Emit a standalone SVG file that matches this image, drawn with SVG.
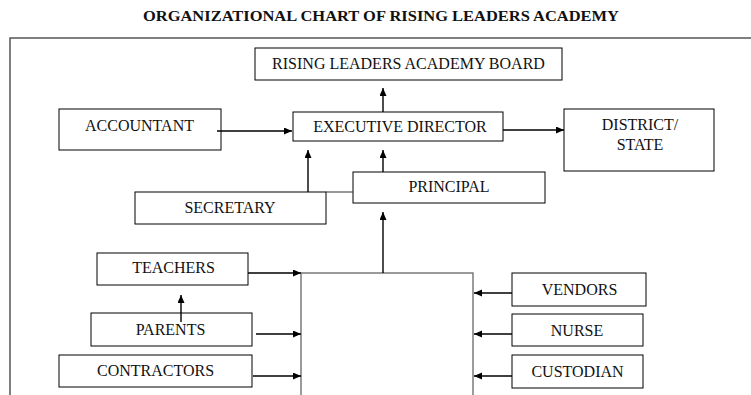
<svg xmlns="http://www.w3.org/2000/svg" width="751" height="395" viewBox="0 0 751 395">
<style>
.box{fill:#fff;stroke:#000;stroke-width:1}
.lbl{font-family:"Liberation Serif","Times New Roman",serif;font-size:16px;fill:#111;text-anchor:middle}
.con{stroke:#000;stroke-width:1.4;fill:none}
.title{font-family:"Liberation Serif","Times New Roman",serif;font-size:14px;font-weight:bold;fill:#111;text-anchor:middle}
</style>
<defs>
<marker id="ah" markerUnits="userSpaceOnUse" markerWidth="9" markerHeight="8" refX="8" refY="3.5" orient="auto">
<path d="M0,0 L8,3.5 L0,7 z" fill="#000"/>
</marker>
</defs>
<rect width="751" height="395" fill="#fff"/>
<text class="title" x="381" y="21" textLength="476" lengthAdjust="spacingAndGlyphs">ORGANIZATIONAL CHART OF RISING LEADERS ACADEMY</text>
<rect x="10" y="38" width="780" height="400" fill="none" stroke="#555" stroke-width="1.5"/>
<g id="hub"><rect x="301" y="273" width="172" height="150" fill="#fff" stroke="#666" stroke-width="1.3"/></g>
<g id="board"><rect class="box" x="255" y="48" width="307" height="32"/><text class="lbl" x="408.5" y="69">RISING LEADERS ACADEMY BOARD</text></g>
<g id="accountant"><rect class="box" x="59" y="109" width="162" height="41"/><text class="lbl" x="139.5" y="131">ACCOUNTANT</text></g>
<g id="executive-director"><rect class="box" x="293" y="112" width="210" height="29"/><text class="lbl" x="400" y="132">EXECUTIVE DIRECTOR</text></g>
<g id="district-state"><rect class="box" x="564" y="109" width="150" height="62"/><text class="lbl" x="640" y="130">DISTRICT/</text><text class="lbl" x="640" y="150">STATE</text></g>
<g id="secretary"><rect class="box" x="135" y="192" width="191" height="32"/><text class="lbl" x="230" y="213">SECRETARY</text></g>
<g id="principal"><rect class="box" x="353" y="172" width="192" height="31"/><text class="lbl" x="449" y="192">PRINCIPAL</text></g>
<g id="teachers"><rect class="box" x="97" y="253" width="151" height="32"/><text class="lbl" x="173.5" y="273">TEACHERS</text></g>
<g id="parents"><rect class="box" x="91" y="313" width="161" height="33"/><text class="lbl" x="170.5" y="335">PARENTS</text></g>
<g id="contractors"><rect class="box" x="59" y="355" width="193" height="32"/><text class="lbl" x="155.5" y="376">CONTRACTORS</text></g>
<g id="vendors"><rect class="box" x="512" y="273" width="134" height="33"/><text class="lbl" x="579.5" y="295">VENDORS</text></g>
<g id="nurse"><rect class="box" x="512" y="314" width="131" height="32"/><text class="lbl" x="577" y="336">NURSE</text></g>
<g id="custodian"><rect class="box" x="512" y="355" width="131" height="33"/><text class="lbl" x="577.5" y="377">CUSTODIAN</text></g>
<g id="connectors">
<line class="con" x1="383" y1="112" x2="383" y2="88" marker-end="url(#ah)"/>
<line class="con" x1="217" y1="131" x2="292" y2="131" marker-end="url(#ah)"/>
<line class="con" x1="503" y1="130" x2="564" y2="130" marker-end="url(#ah)"/>
<line class="con" x1="308" y1="192" x2="308" y2="150" marker-end="url(#ah)"/>
<line class="con" x1="383" y1="172" x2="383" y2="150" marker-end="url(#ah)"/>
<line x1="326" y1="192" x2="353" y2="192" stroke="#333" stroke-width="1"/>
<line class="con" x1="383" y1="273" x2="383" y2="212" marker-end="url(#ah)"/>
<line class="con" x1="248" y1="273" x2="301" y2="273" marker-end="url(#ah)"/>
<line class="con" x1="181" y1="322" x2="181" y2="295" marker-end="url(#ah)"/>
<line class="con" x1="256" y1="334" x2="301" y2="334" marker-end="url(#ah)"/>
<line class="con" x1="253" y1="376" x2="301" y2="376" marker-end="url(#ah)"/>
<line class="con" x1="512" y1="293" x2="474" y2="293" marker-end="url(#ah)"/>
<line class="con" x1="512" y1="334" x2="474" y2="334" marker-end="url(#ah)"/>
<line class="con" x1="512" y1="376" x2="474" y2="376" marker-end="url(#ah)"/>
</g>
</svg>
